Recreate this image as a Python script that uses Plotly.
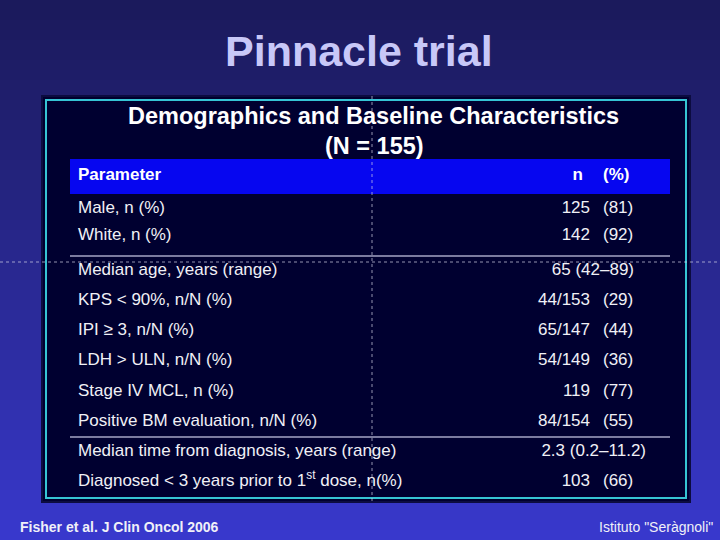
import plotly.graph_objects as go

# ---------------- data ----------------
slide_title = "Pinnacle trial"
table_title = ["Demographics and Baseline Characteristics", "(N = 155)"]
header = ["Parameter", "n", "(%)"]

group1_params = ["Male, n (%)", "White, n (%)"]
group1_n = ["125", "142"]
group1_pct = ["(81)", "(92)"]

group2_params = ["Median age, years (range)", "KPS < 90%, n/N (%)", "IPI \u2265 3, n/N (%)",
                 "LDH > ULN, n/N (%)", "Stage IV MCL, n (%)", "Positive BM evaluation, n/N (%)"]
group2_n = ["65 (42\u201389)", "44/153", "65/147", "54/149", "119", "84/154"]
group2_pct = ["", "(29)", "(44)", "(36)", "(77)", "(55)"]

group3_params = ["Median time from diagnosis, years (range)",
                 "Diagnosed < 3 years prior to 1<sup>st</sup> dose, n(%)"]
group3_n = ["2.3 (0.2\u201311.2)", "103"]
group3_pct = ["", "(66)"]

footer_left = "Fisher et al. J Clin Oncol 2006"
footer_right = "Istituto \"Ser\u00e0gnoli\""

# ---------------- layout helpers ----------------
W, H = 720, 540
FONT = "Liberation Sans, Arial, sans-serif"
TXT = "#f0f0f6"

def hexmix(c1, c2, t):
    a = [int(c1[i:i + 2], 16) for i in (1, 3, 5)]
    b = [int(c2[i:i + 2], 16) for i in (1, 3, 5)]
    return "#" + "".join(f"{round(a[k] + (b[k] - a[k]) * t):02x}" for k in range(3))

shapes = []
# background gradient
n_strips = 54
for i in range(n_strips):
    t = i / (n_strips - 1)
    shapes.append(dict(type="rect", xref="x", yref="y", x0=0, x1=W,
                       y0=i * H / n_strips, y1=(i + 1) * H / n_strips + 1,
                       fillcolor=hexmix("#1b1a5c", "#3838cc", t ** 1.1),
                       line=dict(width=0), layer="below"))
# panel
shapes.append(dict(type="rect", x0=42, x1=690, y0=96, y1=502, fillcolor="#000030",
                   line=dict(color="#0c0c40", width=2), layer="below"))
shapes.append(dict(type="rect", x0=46, x1=686, y0=100, y1=498, fillcolor="rgba(0,0,0,0)",
                   line=dict(color="#36c4d4", width=2), layer="below"))
# header bar
shapes.append(dict(type="rect", x0=70, x1=670, y0=159, y1=194, fillcolor="#0606f0",
                   line=dict(width=0), layer="below"))
# dividers
for yy in (256, 437):
    shapes.append(dict(type="line", x0=70, x1=670, y0=yy, y1=yy,
                       line=dict(color="#a4a4c4", width=1.5), layer="below"))
# dotted guide lines
shapes.append(dict(type="line", x0=0, x1=W, y0=262, y1=262,
                   line=dict(color="rgba(210,210,230,0.7)", width=1, dash="dot"), layer="above"))
shapes.append(dict(type="line", x0=372, x1=372, y0=96, y1=503,
                   line=dict(color="rgba(210,210,230,0.7)", width=1, dash="dot"), layer="above"))

# row positions (layout)
params = group1_params + group2_params + group3_params
ns = group1_n + group2_n + group3_n
pcts = group1_pct + group2_pct + group3_pct
ys = [209 + 27 * k for k in range(len(group1_params))] + \
     [270.5 + 30.2 * k for k in range(len(group2_params) + len(group3_params))]

# right-column: combined strings (range rows) sit further right
n_x, n_y, n_txt = [], [], []
c_x, c_y, c_txt = [], [], []
for p, n, c, y in zip(params, ns, pcts, ys):
    if c:
        n_x.append(590); n_y.append(y); n_txt.append(n)
        c_x.append(603); c_y.append(y); c_txt.append(c)
    else:
        end = 646 if "11.2" in n else 634
        n_x.append(end); n_y.append(y); n_txt.append(n)

fig = go.Figure()
fig.add_trace(go.Scatter(x=[78] * len(params), y=ys, text=params, mode="text",
                         textposition="middle right",
                         textfont=dict(family=FONT, size=17, color=TXT), hoverinfo="skip"))
fig.add_trace(go.Scatter(x=n_x, y=n_y, text=n_txt, mode="text", textposition="middle left",
                         textfont=dict(family=FONT, size=17, color=TXT), hoverinfo="skip"))
fig.add_trace(go.Scatter(x=c_x, y=c_y, text=c_txt, mode="text", textposition="middle right",
                         textfont=dict(family=FONT, size=17, color=TXT), hoverinfo="skip"))
# header
fig.add_trace(go.Scatter(x=[78], y=[176], text=["<b>" + header[0] + "</b>"], mode="text",
                         textposition="middle right",
                         textfont=dict(family=FONT, size=17, color="white"), hoverinfo="skip"))
fig.add_trace(go.Scatter(x=[583], y=[176], text=["<b>" + header[1] + "</b>"], mode="text",
                         textposition="middle left",
                         textfont=dict(family=FONT, size=17, color="white"), hoverinfo="skip"))
fig.add_trace(go.Scatter(x=[603], y=[176], text=["<b>" + header[2] + "</b>"], mode="text",
                         textposition="middle right",
                         textfont=dict(family=FONT, size=17, color="white"), hoverinfo="skip"))

annotations = [
    dict(x=359, y=51, text="<b>" + slide_title + "</b>", showarrow=False,
         font=dict(family=FONT, size=43, color="#c8c8f8"), xanchor="center", yanchor="middle"),
    dict(x=373, y=116, text="<b>" + table_title[0] + "</b>", showarrow=False,
         font=dict(family=FONT, size=23.5, color="white"), xanchor="center", yanchor="middle"),
    dict(x=374, y=146, text="<b>" + table_title[1] + "</b>", showarrow=False,
         font=dict(family=FONT, size=23.5, color="white"), xanchor="center", yanchor="middle"),
    dict(x=18, y=527, text="<b>" + footer_left + "</b>", showarrow=False,
         font=dict(family=FONT, size=14, color="#f0f0f8"), xanchor="left", yanchor="middle"),
    dict(x=715, y=527, text=footer_right, showarrow=False,
         font=dict(family=FONT, size=14, color="#f0f0f8"), xanchor="right", yanchor="middle"),
]

fig.update_layout(
    width=W, height=H, margin=dict(l=0, r=0, t=0, b=0),
    paper_bgcolor="#24238a", plot_bgcolor="#24238a",
    xaxis=dict(range=[0, W], visible=False, fixedrange=True),
    yaxis=dict(range=[H, 0], visible=False, fixedrange=True),
    showlegend=False, shapes=shapes, annotations=annotations,
)
fig.write_html("out.html", config={"displayModeBar": False},
               post_script="document.body.style.margin='0';document.body.style.overflow='hidden';")
